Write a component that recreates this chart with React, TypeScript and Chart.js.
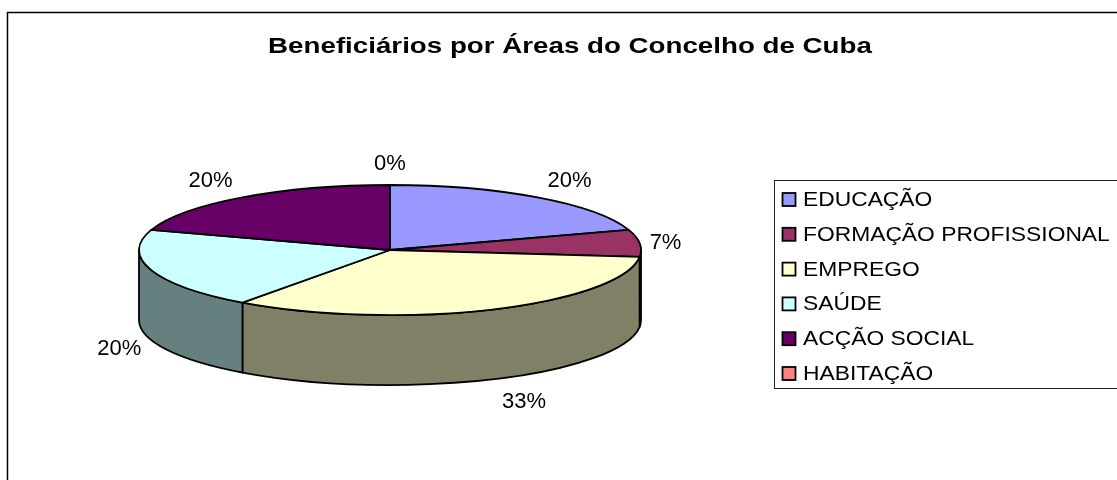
import { useEffect, useRef } from "react";
import { Chart, registerables } from "chart.js";

Chart.register(...registerables);

const TITLE = "Beneficiários por Áreas do Concelho de Cuba";
const categories = [
  "EDUCAÇÃO",
  "FORMAÇÃO PROFISSIONAL",
  "EMPREGO",
  "SAÚDE",
  "ACÇÃO SOCIAL",
  "HABITAÇÃO",
];
const beneficiaries = [3, 1, 5, 3, 3, 0];
const topColors = ["#9999FF", "#993366", "#FFFFCC", "#CCFFFF", "#660066", "#FF8080"];
const sideColors = ["#4D4D80", "#4D1A33", "#808066", "#668080", "#330033", "#804040"];

const FONT = "'Liberation Sans', Arial, sans-serif";
const TILT = 65 / 251;
const DEPTH = 70 / 251;

function drawStretched(ctx: CanvasRenderingContext2D, text: string, x: number, y: number, sx: number) {
  ctx.save();
  ctx.translate(x, y);
  ctx.scale(sx, 1);
  ctx.fillText(text, 0, 0);
  ctx.restore();
}

const framePlugin = {
  id: "frame",
  beforeDraw(chart: any) {
    const ctx: CanvasRenderingContext2D = chart.ctx;
    ctx.save();
    ctx.fillStyle = "#FFFFFF";
    ctx.fillRect(0, 0, chart.width, chart.height);
    ctx.strokeStyle = "#000000";
    ctx.lineWidth = 1.5;
    ctx.strokeRect(7.5, 12.5, 1300, 700);
    ctx.restore();
  },
  afterDraw(chart: any) {
    const ctx: CanvasRenderingContext2D = chart.ctx;
    ctx.save();
    // title
    ctx.fillStyle = "#000000";
    ctx.font = `bold 22px ${FONT}`;
    ctx.textAlign = "center";
    ctx.textBaseline = "alphabetic";
    drawStretched(ctx, TITLE, 570, 53, 1.26);
    // legend box
    ctx.strokeStyle = "#222222";
    ctx.lineWidth = 1;
    ctx.strokeRect(774.5, 180.5, 600, 208);
    ctx.font = `19.5px ${FONT}`;
    ctx.textAlign = "left";
    const labels: string[] = chart.data.labels;
    const colors: string[] = chart.data.datasets[0].backgroundColor;
    labels.forEach((lab, i) => {
      const base = 206 + i * 34.8;
      ctx.fillStyle = colors[i];
      ctx.fillRect(782.5, base - 13, 13, 13);
      ctx.strokeStyle = "#000000";
      ctx.lineWidth = 1.8;
      ctx.strokeRect(782.5, base - 13, 13, 13);
      ctx.fillStyle = "#000000";
      drawStretched(ctx, lab, 803, base, 1.17);
    });
    ctx.restore();
  },
};

const pie3dPlugin = {
  id: "pie3d",
  beforeDatasetsDraw(chart: any) {
    const ctx: CanvasRenderingContext2D = chart.ctx;
    const meta = chart.getDatasetMeta(0);
    const ds = chart.data.datasets[0];
    const values: number[] = ds.data;
    const total = values.reduce((a, b) => a + b, 0);
    const arcs = meta.data.map((el: any) =>
      el.getProps(["x", "y", "startAngle", "endAngle", "outerRadius"], true)
    );
    ctx.save();
    ctx.lineWidth = 1.8;
    ctx.strokeStyle = "#000000";
    ctx.lineJoin = "round";
    // side walls (front half only)
    arcs.forEach((a: any, i: number) => {
      const rx = a.outerRadius;
      const ry = rx * TILT;
      const d = rx * DEPTH;
      const a1 = Math.max(a.startAngle, 0);
      const a2 = Math.min(a.endAngle, Math.PI);
      if (a2 - a1 <= 0.0001) return;
      ctx.beginPath();
      ctx.ellipse(a.x, a.y, rx, ry, 0, a1, a2);
      ctx.lineTo(a.x + rx * Math.cos(a2), a.y + d + ry * Math.sin(a2));
      ctx.ellipse(a.x, a.y + d, rx, ry, 0, a2, a1, true);
      ctx.closePath();
      ctx.fillStyle = sideColors[i];
      ctx.fill();
      ctx.stroke();
    });
    // top faces
    arcs.forEach((a: any, i: number) => {
      if (a.endAngle - a.startAngle <= 0.0001) return;
      const rx = a.outerRadius;
      const ry = rx * TILT;
      ctx.beginPath();
      ctx.moveTo(a.x, a.y);
      ctx.ellipse(a.x, a.y, rx, ry, 0, a.startAngle, a.endAngle);
      ctx.closePath();
      ctx.fillStyle = ds.backgroundColor[i];
      ctx.fill();
      ctx.stroke();
    });
    // percentage labels
    ctx.fillStyle = "#000000";
    ctx.font = `22px ${FONT}`;
    ctx.textAlign = "center";
    ctx.textBaseline = "alphabetic";
    arcs.forEach((a: any, i: number) => {
      const rx = a.outerRadius;
      const ry = rx * TILT;
      const d = rx * DEPTH;
      const m = (a.startAngle + a.endAngle) / 2;
      const txt = Math.round((values[i] / total) * 100) + "%";
      const w = ctx.measureText(txt).width;
      const ex = a.x + rx * Math.cos(m);
      const ey = a.y + ry * Math.sin(m) + (Math.sin(m) > 0 ? d : 0);
      const k = Math.max(-1, Math.min(1, 3 * Math.cos(m)));
      const cx = ex + (w / 2 + 10) * k;
      const cy = ey + Math.sin(m) * 23;
      ctx.fillText(txt, cx, cy + 8);
    });
    ctx.restore();
    return false;
  },
};

export default function App() {
  const ref = useRef<HTMLCanvasElement | null>(null);
  useEffect(() => {
    if (!ref.current) return;
    const chart = new Chart(ref.current, {
      type: "pie",
      data: {
        labels: categories,
        datasets: [
          {
            data: beneficiaries,
            backgroundColor: topColors,
            borderColor: "#000000",
            borderWidth: 1.5,
            radius: 251,
          } as any,
        ],
      },
      options: {
        responsive: false,
        animation: false,
        events: [],
        layout: { padding: { left: 0, right: 337, top: 20, bottom: 0 } },
        plugins: {
          legend: { display: false },
          title: { display: false },
          tooltip: { enabled: false },
        },
      },
      plugins: [framePlugin, pie3dPlugin],
    });
    return () => chart.destroy();
  }, []);
  return (
    <div style={{ position: "absolute", left: 0, top: 0, width: 1117, height: 480 }}>
      <canvas ref={ref} width={1117} height={480} style={{ display: "block" }} />
    </div>
  );
}
